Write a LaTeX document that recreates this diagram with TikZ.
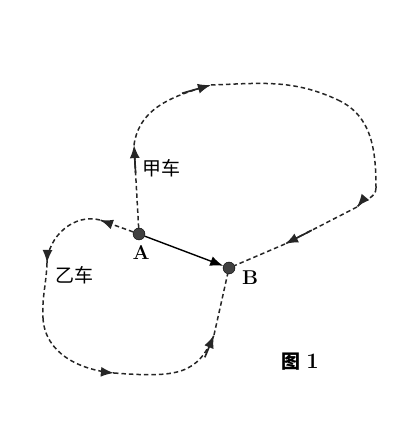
\documentclass[tikz,border=0pt]{standalone}
\usepackage{fontspec}
\newfontfamily\cjk{Noto Sans CJK SC}
\usetikzlibrary{arrows.meta,decorations.markings}
\begin{document}
\begin{tikzpicture}[x=1pt,y=1pt,
  path/.style={line width=1.5pt,dash pattern=on 4.5pt off 3pt,color=black!85},
  arr/.style={postaction={decorate,decoration={markings,mark=at position 0.999 with {\draw[solid,line width=1.7pt,-{Latex[length=13pt,width=10pt]}] (-#1,0)--(0,0);}}}},
  arr/.default=16pt,
  dot/.style={circle,fill=black!75,draw=black,inner sep=0pt,minimum width=12pt,minimum height=11pt},
  lbl/.style={font=\cjk\fontsize{19}{19}\selectfont,inner sep=0pt},
  pt/.style={font=\bfseries\fontsize{20}{20}\selectfont,inner sep=0pt}]
\useasboundingbox (0,0) rectangle (418,428);
\node[dot] (A) at (139,194) {};
\node[dot] (B) at (229,160) {};
% upper loop (甲车)
\coordinate (P1) at (134,283);
\coordinate (P2) at (211,343);
\coordinate (Q1) at (338,328);
\coordinate (Q2) at (376,240);
\coordinate (P7) at (357,221);
\coordinate (P8) at (285,184);
% lower loop (乙车)
\coordinate (L1) at (100,208);
\coordinate (L2) at (47,165);
\coordinate (M) at (43,110);
\coordinate (L3) at (114,55);
\coordinate (L4) at (214,93);
\draw[path,arr=28pt] (A) -- (P1);
\draw[path,arr=30pt] (P1) to[out=82,in=196] (P2);
\draw[path] (P2) to[out=2,in=155] (Q1);
\draw[path] (Q1) to[out=-25,in=90] (Q2);
\draw[path,arr=12pt] (Q2) to[out=-90,in=50] (P7);
\draw[path,arr=30pt] (P7) -- (P8);
\draw[path] (P8) -- (B);
\draw[path,arr=12pt] (A) -- (L1);
\draw[path,arr=12pt] (L1) to[out=165,in=88] (L2);
\draw[path] (L2) to[out=-92,in=93] (M);
\draw[path,arr=12pt] (M) to[out=-87,in=175] (L3);
\draw[path,arr=24pt] (L3) .. controls (178,50) and (198,54) .. (L4);
\draw[path] (L4) -- (B);
\draw[line width=1.4pt,-{Latex[length=13pt,width=10pt]}] (A) -- (B);
\node[lbl] (jia) at (161,260) {甲车};
\node[lbl] (yi) at (74,153) {乙车};
\node[pt] (la) at (141,175) {A};
\node[pt] (lb) at (250,150) {B};
\node[lbl,font=\cjk\bfseries\fontsize{19}{19}\selectfont] (fig) at (300,66) {图\hspace{6pt}\textrm{\fontsize{22}{22}\selectfont 1}};
\end{tikzpicture}
\end{document}
